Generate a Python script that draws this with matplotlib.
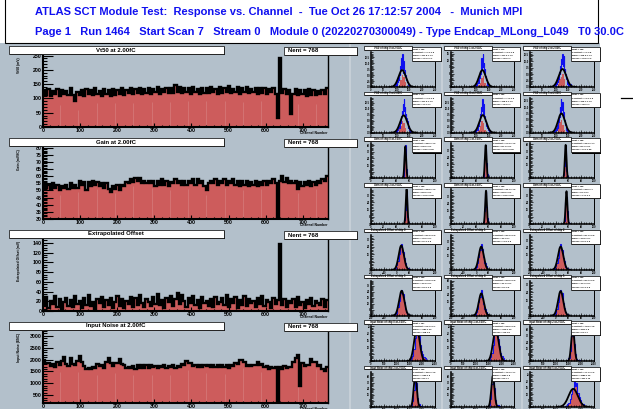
import numpy as np
import matplotlib
matplotlib.use("Agg")
import matplotlib.pyplot as plt
from matplotlib.patches import Rectangle
from matplotlib.ticker import MultipleLocator, MaxNLocator, AutoMinorLocator

plt.rcParams["font.family"] = ["Liberation Sans", "DejaVu Sans"]
plt.rcParams["font.weight"] = "bold"

W, H = 633, 409
PAD = "#b3c0cb"
RED = "#cd5c5c"
BLUE = "#1010f0"

# ---- per-channel results, 6 channels per bin (768 channels) ----
vt50_ch = [
    131, 112, 134, 110, 126, 115, 133, 108, 129, 114, 127, 111, 135, 113, 90, 124,
    112, 130, 109, 133, 115, 128, 111, 136, 114, 127, 108, 132, 116, 129, 110, 134,
    113, 131, 117, 135, 112, 129, 118, 137, 115, 132, 119, 136, 114, 133, 120, 138,
    116, 134, 121, 139, 115, 132, 122, 137, 118, 135, 120, 148, 124, 141, 119, 137,
    121, 136, 117, 140, 122, 133, 116, 138, 120, 135, 118, 141, 123, 134, 117, 139,
    120, 137, 122, 142, 119, 134, 124, 139, 117, 136, 121, 140, 118, 133, 122, 137,
    116, 135, 120, 138, 117, 132, 121, 136, 115, 30, 240, 118, 134, 116, 131, 45,
    114, 133, 112, 130, 116, 128, 110, 134, 113, 129, 111, 127, 115, 131, 117, 136,
]
gain_ch = [
    55, 52, 54, 51, 55, 52, 54, 50, 53, 52, 54, 51, 55, 52, 54, 52,
    57, 54, 56, 50, 56, 53, 57, 54, 56, 53, 55, 52, 55, 51, 49, 53,
    51, 54, 50, 54, 53, 56, 55, 58, 56, 59, 57, 59, 55, 57, 55, 57,
    55, 57, 53, 57, 54, 58, 54, 57, 53, 56, 55, 58, 55, 57, 54, 57,
    54, 57, 55, 58, 54, 58, 55, 57, 53, 50, 55, 57, 55, 58, 54, 57,
    55, 58, 54, 57, 55, 58, 54, 57, 53, 57, 54, 57, 53, 56, 54, 57,
    53, 56, 54, 57, 54, 57, 55, 58, 55, 30, 57, 60, 56, 59, 55, 57,
    55, 57, 51, 56, 53, 56, 54, 57, 53, 56, 54, 57, 55, 58, 57, 60,
]
offset_ch = [
    12, 28, 6, 20, 15, 31, 9, 24, 5, 18, 27, 11, 22, 8, 30, 14,
    21, 7, 26, 13, 32, 10, 19, 4, 25, 16, 29, 9, 23, 12, 27, 6,
    18, 30, 11, 24, 7, 21, 15, 28, 9, 26, 13, 33, 17, 8, 25, 19,
    10, 29, 14, 35, 12, 22, 6, 27, 18, 31, 11, 24, 38, 15, 33, 20,
    9, 26, 17, 30, 13, 23, 7, 28, 16, 21, 11, 25, 8, 29, 14, 19,
    27, 12, 32, 9, 24, 16, 28, 6, 22, 13, 30, 10, 25, 17, 21, 8,
    26, 14, 31, 11, 23, 18, 7, 27, 15, 22, 138, 12, 25, 9, 20, 16,
    24, 8, 28, 13, 19, 6, 23, 15, 27, 10, 21, 17, 12, 25, 9, 22,
]
noise_ch = [
    1990, 1860, 1840, 1710, 1830, 1680, 1900, 1760, 1950, 2100, 1800, 1740, 2060, 1810, 1760, 1940,
    2130, 1900, 1740, 1610, 1660, 1620, 1690, 1650, 1800, 1720, 1760, 1640, 1900, 2070, 1850, 1730,
    1870, 1850, 2030, 1800, 1760, 1640, 1690, 1650, 1710, 1620, 1750, 1650, 1790, 1660, 1770, 1650,
    1760, 1680, 1740, 1660, 1730, 1680, 1790, 1660, 1740, 1690, 1760, 1650, 1730, 1680, 1810, 1780,
    1930, 1860, 1840, 1720, 1770, 1700, 1750, 1690, 1760, 1720, 1790, 1680, 1750, 1690, 1790, 1670,
    1790, 1680, 1750, 1640, 1770, 1710, 1840, 1830, 1990, 1960, 1890, 1720, 1770, 1730, 1790, 1750,
    1900, 1760, 1800, 1680, 1730, 1620, 1690, 1640, 1700, 170, 1700, 1600, 1730, 1660, 1700, 1680,
    1890, 2060, 2200, 900, 1850, 1720, 1750, 1780, 2040, 1910, 1880, 1740, 1770, 1580, 1500, 1700,
]

# ---- per-chip distributions ----
vt50_counts = [
    [0, 1, 0, 1, 2, 1, 3, 2, 4, 3, 6, 5, 9, 7, 12, 8, 14, 6, 11, 9, 7, 6, 5, 4, 3, 2, 2, 1, 1, 0, 1, 0, 0, 0, 0, 0],
    [0, 0, 1, 0, 1, 2, 1, 2, 3, 2, 5, 4, 7, 6, 10, 13, 8, 12, 15, 9, 11, 7, 8, 5, 4, 3, 2, 1, 2, 0, 1, 0, 0, 0, 0, 0],
    [0, 0, 0, 1, 0, 1, 2, 1, 3, 2, 4, 3, 6, 5, 8, 7, 11, 9, 13, 10, 8, 12, 6, 7, 5, 4, 3, 2, 1, 2, 0, 1, 0, 0, 1, 0],
    [0, 0, 0, 0, 1, 0, 1, 1, 2, 3, 2, 4, 5, 4, 7, 9, 8, 12, 10, 14, 9, 11, 7, 8, 6, 4, 5, 2, 3, 1, 1, 0, 1, 0, 0, 0],
    [0, 0, 1, 0, 0, 1, 2, 1, 2, 4, 3, 5, 6, 8, 7, 11, 9, 14, 8, 12, 10, 7, 6, 5, 4, 3, 2, 2, 1, 1, 0, 0, 1, 0, 0, 0],
    [0, 1, 0, 1, 1, 2, 1, 3, 2, 5, 4, 7, 6, 10, 8, 13, 9, 11, 12, 7, 8, 6, 5, 4, 3, 2, 1, 2, 0, 1, 0, 0, 0, 0, 0, 0],
]
vt50_core = [
    [1, 3, 5, 4, 2], [1, 2, 4, 5, 2], [1, 3, 4, 5, 3],
    [2, 3, 5, 4, 2], [1, 3, 5, 4, 1], [2, 4, 5, 3, 1],
]
gain_counts = [
    [0, 1, 3, 10, 28, 40, 31, 11, 3, 1, 0, 0, 0, 0],
    [0, 0, 1, 2, 8, 22, 38, 33, 17, 5, 2, 0, 0, 0],
    [0, 0, 0, 1, 4, 14, 33, 39, 24, 9, 3, 1, 0, 0],
    [0, 0, 0, 2, 5, 16, 36, 37, 21, 8, 2, 1, 0, 0],
    [0, 0, 1, 2, 6, 15, 35, 38, 20, 7, 3, 1, 0, 0],
    [0, 0, 0, 0, 1, 3, 10, 24, 37, 30, 15, 5, 2, 1],
]
offset_counts = [
    [0, 1, 2, 5, 9, 16, 24, 27, 19, 12, 7, 3, 2, 1, 0, 0],
    [0, 0, 1, 3, 8, 14, 22, 29, 23, 14, 8, 4, 1, 1, 0, 0],
    [0, 1, 1, 4, 7, 13, 25, 28, 21, 13, 9, 3, 2, 0, 1, 0],
    [0, 0, 2, 3, 9, 15, 23, 26, 22, 14, 7, 4, 2, 1, 0, 0],
    [0, 0, 1, 4, 8, 16, 21, 30, 20, 13, 8, 4, 2, 1, 0, 0],
    [1, 0, 1, 3, 7, 14, 24, 27, 23, 13, 8, 4, 2, 1, 0, 0],
]
noise_counts = [
    [0, 0, 0, 0, 1, 2, 4, 9, 17, 24, 22, 18, 12, 7, 5, 3, 2, 1],
    [0, 0, 0, 0, 1, 3, 6, 12, 19, 24, 21, 16, 11, 6, 4, 2, 1, 0],
    [0, 0, 0, 1, 4, 13, 32, 42, 22, 9, 3, 1, 1, 0, 0, 0, 0, 0],
    [0, 0, 0, 0, 1, 3, 8, 22, 44, 32, 12, 4, 1, 1, 0, 0, 0, 0],
    [0, 0, 0, 1, 3, 10, 30, 44, 25, 9, 3, 2, 1, 0, 0, 0, 0, 0],
    [0, 1, 1, 2, 3, 6, 10, 14, 26, 16, 19, 11, 8, 5, 3, 2, 1, 1],
]

# gaussian fit results: constant, err, mean, err, sigma, err
vt50_fit = [
    (7.1, 0.9, 121.8, 1.3, 14.2, 1.1), (7.6, 0.9, 124.5, 1.2, 13.6, 1.0),
    (7.0, 0.8, 126.9, 1.3, 14.8, 1.2), (7.3, 0.9, 127.6, 1.2, 14.0, 1.1),
    (7.4, 0.9, 126.2, 1.2, 13.9, 1.0), (7.5, 0.9, 122.7, 1.2, 13.5, 1.0),
]
gain_fit = [
    (38.5, 4.3, 53.6, 0.1, 1.32, 0.09), (37.9, 4.2, 55.1, 0.1, 1.35, 0.09),
    (39.2, 4.4, 55.7, 0.1, 1.30, 0.08), (38.8, 4.3, 55.6, 0.1, 1.31, 0.08),
    (38.1, 4.2, 55.6, 0.1, 1.33, 0.09), (36.5, 4.0, 57.0, 0.1, 1.40, 0.10),
]
offset_fit = [
    (25.3, 2.9, 14.6, 0.7, 8.1, 0.5), (25.9, 2.9, 16.0, 0.7, 7.9, 0.5),
    (25.1, 2.8, 15.8, 0.7, 8.3, 0.5), (24.8, 2.8, 15.9, 0.7, 8.2, 0.5),
    (25.6, 2.9, 16.1, 0.7, 8.0, 0.5), (25.4, 2.9, 15.7, 0.7, 8.1, 0.5),
]
noise_fit = [
    (23.4, 2.7, 1792, 10, 108, 8), (22.6, 2.6, 1778, 10, 112, 8),
    (41.8, 4.8, 1672, 6, 61, 4), (42.5, 4.9, 1728, 6, 60, 4),
    (41.2, 4.7, 1662, 6, 62, 4), (14.1, 1.6, 1688, 16, 181, 13),
]

header_1 = "ATLAS SCT Module Test:  Response vs. Channel  -  Tue Oct 26 17:12:57 2004   -  Munich MPI"
header_2 = ("Page 1   Run 1464   Start Scan 7   Stream 0   Module 0 (20220270300049)"
            " - Type Endcap_MLong_L049   T0 30.0C")

fig = plt.figure(figsize=(W / 100, H / 100), dpi=100)


def frac(x0, y0, x1, y1):
    return [x0 / W, 1 - y1 / H, (x1 - x0) / W, (y1 - y0) / H]


def rect(x0, y0, x1, y1, fc, ec="none", lw=0.0, z=1.0):
    l, b, w, h = frac(x0, y0, x1, y1)
    fig.add_artist(Rectangle((l, b), w, h, transform=fig.transFigure,
                             fc=fc, ec=ec, lw=lw, zorder=z))


def pave(x0, y0, x1, y1, z=5.0, sh=1.3):
    rect(x0 + sh, y0 + sh, x1 + sh, y1 + sh, "black", z=z)
    rect(x0, y0, x1, y1, "white", "black", 0.5, z=z + 0.1)


def ftext(x, y, s, size, z=6.0, **kw):
    fig.text(x / W, 1 - y / H, s, fontsize=size, zorder=z, **kw)


def frame(ax, lw_main, lw_right):
    ax.set_facecolor("none")
    ax.spines["top"].set_visible(False)
    for side in ("left", "bottom"):
        ax.spines[side].set_linewidth(lw_main)
    ax.spines["right"].set_linewidth(lw_right)


# canvas
rect(0, 43, 600, 409, PAD, z=-10)
for xs in (350, 442, 522):
    rect(xs - 1, 43, xs + 1, 409, "#c6cfd7", z=-9)
rect(5, -2, 598, 43, "white", "black", 0.8, z=2)
ftext(35, 12, header_1, 8.0, color=BLUE, va="center")
ftext(35, 32, header_2, 8.0, color=BLUE, va="center")
fig.add_artist(plt.Line2D([621 / W, 1], [1 - 98 / H] * 2, color="black", lw=0.9,
                          transform=fig.transFigure))

# ---- channel plots on the left ----
big = [
    ("Vt50 at 2.00fC", "Vt50 (mV)", vt50_ch, (0, 252), 50, 10),
    ("Gain at 2.00fC", "Gain (mV/fC)", gain_ch, (30, 80.5), 5, 1),
    ("Extrapolated Offset", "Extrapolated Offset (mV)", offset_ch, (0, 148), 20, 5),
    ("Input Noise at 2.00fC", "Input Noise (ENC)", noise_ch, (170, 3200), 500, 100),
]
stripes = np.arange(46, 768, 49.3)
for i, (title, ylab, vals, ylim, major, minor) in enumerate(big):
    top = 46 + 92 * i
    ax = fig.add_axes(frac(43, top + 9, 328, top + 81))
    vals = np.asarray(vals, float)
    edges = np.linspace(0, 768, len(vals) + 1)
    ax.stairs(vals, edges, fill=True, color=RED, baseline=0, zorder=1)
    idx = np.minimum((stripes / 768 * len(vals)).astype(int), len(vals) - 1)
    ax.vlines(stripes, ylim[0], np.minimum(vals[idx], vals[np.maximum(idx - 1, 0)]) - 3 * minor,
              color="#d67c7c", lw=0.5, zorder=1.5)
    ax.stairs(vals, edges, color="black", lw=1.7, baseline=None, zorder=2)
    ax.set_xlim(0, 768)
    ax.set_ylim(*ylim)
    frame(ax, 1.5, 1.0)
    ax.xaxis.set_major_locator(MultipleLocator(100))
    ax.xaxis.set_minor_locator(MultipleLocator(20))
    ax.yaxis.set_major_locator(MultipleLocator(major))
    ax.yaxis.set_minor_locator(MultipleLocator(minor))
    ax.tick_params(which="both", direction="in", labelsize=3.8, pad=1.0, width=0.8)
    ax.tick_params(axis="y", which="major", length=7)
    ax.tick_params(axis="y", which="minor", length=3)
    ax.tick_params(axis="x", which="major", length=3)
    ax.tick_params(axis="x", which="minor", length=1.5)
    ax.text(-0.085, 0.97, ylab, rotation=90, ha="center", va="top",
            transform=ax.transAxes, fontsize=2.4)
    ax.text(1.0, -0.05, "Channel Number", ha="right", va="top",
            transform=ax.transAxes, fontsize=2.4)
    pave(9, top, 224, top + 8)
    ftext(116, top + 4, title, 4.3, ha="center", va="center")
    pave(284, top + 1, 357, top + 9)
    ftext(288, top + 5, "Nent = 768", 4.3, va="center")

# ---- per-chip distributions on the right ----
quantities = [
    ("Vt50 of chip %d at 2.00fC", vt50_counts, 90, 2, (0, 250), vt50_fit, 1.05),
    ("Gain of chip %d at 2.00fC", gain_counts, 48, 1, (0, 100), gain_fit, 1.05),
    ("Extrapolated Offset of chip %d", offset_counts, -14, 4, (-80, 120), offset_fit, 1.35),
    ("Input Noise of chip %d at 2.00fC", noise_counts, 1300, 50, (0, 2500), noise_fit, 1.05),
]
cols = [(371, 435), (451, 514), (530, 594)]
for q, (title, counts_list, lo, width, xlim, fits, head) in enumerate(quantities):
    for chip in range(6):
        row = 2 * q + chip // 3
        x0, x1 = cols[chip % 3]
        top = 52 + 45.7 * row
        ax = fig.add_axes(frac(x0, top, x1, top + 35))
        counts = np.asarray(counts_list[chip], float)
        edges = lo + width * np.arange(len(counts) + 1)
        if q == 0:
            core = vt50_core[chip]
            ax.stairs(core, np.linspace(108, 138, len(core) + 1), fill=True, color=RED, zorder=1)
        else:
            ax.stairs(counts, edges, fill=True, color=RED, zorder=1)
        ax.stairs(counts, edges, color=BLUE, lw=0.8, baseline=None, zorder=2)
        c, ce, m, me, s, se = fits[chip]
        xx = np.linspace(m - 3.5 * s, m + 3.5 * s, 200)
        ax.plot(xx, c * np.exp(-0.5 * ((xx - m) / s) ** 2), color="black", lw=1.3, zorder=3)
        ax.set_xlim(*xlim)
        ax.set_ylim(0, counts.max() * head)
        frame(ax, 1.1, 0.7)
        ax.xaxis.set_major_locator(MaxNLocator(6))
        ax.yaxis.set_major_locator(MaxNLocator(6))
        ax.xaxis.set_minor_locator(AutoMinorLocator(5))
        ax.yaxis.set_minor_locator(AutoMinorLocator(5))
        ax.tick_params(which="both", direction="in", labelsize=1.8, pad=0.6, width=0.5)
        ax.tick_params(which="major", length=2.5)
        ax.tick_params(which="minor", length=1.2)

        pave(x0 - 7, top - 6, x0 + 41, top - 2.5, sh=1.0)
        ftext(x0 + 17, top - 4.3, title % chip, 1.8, ha="center", va="center")
        bx0, bx1 = x0 + 41, x1 + 6
        pave(bx0, top - 5, bx1, top + 9, sh=1.2)
        lines = ["Nent = %d" % counts.sum(),
                 "Constant = %.3g \u00b1 %.2g" % (c, ce),
                 "Mean = %.4g \u00b1 %.2g" % (m, me),
                 "Sigma = %.3g \u00b1 %.2g" % (s, se)]
        for k, line in enumerate(lines):
            ftext(bx0 + 1.2, top - 3 + 3.2 * k, line, 1.6, va="center")

fig.savefig("out.png", dpi=100)
